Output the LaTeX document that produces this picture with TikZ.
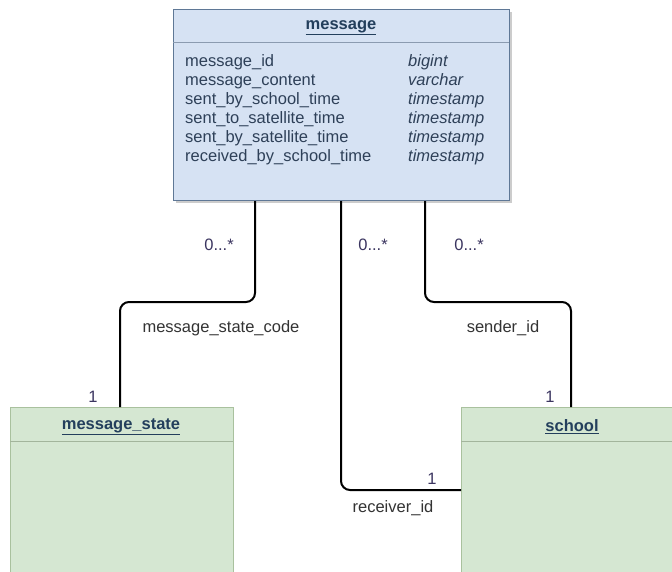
\documentclass[tikz,border=0pt]{standalone}
\usepackage{fontspec}
\setmainfont{Liberation Sans}
\definecolor{msgfill}{HTML}{D6E2F3}
\definecolor{msgdraw}{HTML}{5F7896}
\definecolor{msgsep}{HTML}{8B9BB0}
\definecolor{grfill}{HTML}{D5E7D2}
\definecolor{grdraw}{HTML}{A9C19E}
\definecolor{grsep}{HTML}{A3B59C}
\definecolor{ttl}{HTML}{233F5C}
\definecolor{bodytxt}{HTML}{2E4058}
\definecolor{multc}{HTML}{3B3560}
\definecolor{lblc}{HTML}{333333}
\begin{document}
\begin{tikzpicture}[x=1pt,y=-1pt,
  every node/.style={inner sep=0pt,font=\fontsize{16.5}{19}\selectfont},
  table/.style={draw=msgdraw,fill=msgfill,line width=1.2pt,minimum width=336pt,minimum height=191pt},
  grtable/.style={draw=grdraw,fill=grfill,line width=1.2pt,minimum width=223pt,minimum height=200pt},
  ttlnode/.style={text=ttl,font=\fontsize{16.5}{19}\selectfont\bfseries},
  field/.style={anchor=mid west,text=bodytxt},
  ftype/.style={anchor=mid west,text=bodytxt,font=\fontsize{16.5}{19}\selectfont\itshape},
  conn/.style={draw=black,line width=2pt,rounded corners=9pt},
  mult/.style={text=multc},
  lbl/.style={text=lblc}]
\useasboundingbox (0,0) rectangle (672,572);
\clip (0,0) rectangle (672,572);
\fill[white] (0,0) rectangle (672,572);
% message table
\fill[gray!40] (176,12) rectangle (512,203);
\node[table,anchor=north west] (msg) at (173,9) {};
\draw[msgsep,line width=1pt] (173,43) -- (509,43);
\node[ttlnode] (msgt) at (341,28) {\underline{message}};
\node[field] (f1) at (185,64) {message\_id};
\node[field] (f2) at (185,83) {message\_content};
\node[field] (f3) at (185,102) {sent\_by\_school\_time};
\node[field] (f4) at (185,121) {sent\_to\_satellite\_time};
\node[field] (f5) at (185,140) {sent\_by\_satellite\_time};
\node[field] (f6) at (185,159) {received\_by\_school\_time};
\node[ftype] (t1) at (408,64) {bigint};
\node[ftype] (t2) at (408,83) {varchar};
\node[ftype] (t3) at (408,102) {timestamp};
\node[ftype] (t4) at (408,121) {timestamp};
\node[ftype] (t5) at (408,140) {timestamp};
\node[ftype] (t6) at (408,159) {timestamp};
% message_state table
\node[grtable,anchor=north west] (ms) at (10,407) {};
\draw[grsep,line width=1pt] (10,441) -- (233,441);
\node[ttlnode] (mst) at (121,427) {\underline{message\_state}};
% school table
\node[grtable,anchor=north west] (sch) at (461,407) {};
\draw[grsep,line width=1pt] (461,441) -- (684,441);
\node[ttlnode] (scht) at (572,427) {\underline{school}};
% connector anchors
\coordinate (c1) at (255,200);
\coordinate (c2) at (341,200);
\coordinate (c3) at (425,200);
\coordinate (e1) at (120,407);
\coordinate (e2) at (461,490);
\coordinate (e3) at (571,407);
\draw[conn] (msg.south -| c1) -- (255,302) -- (120,302) -- (ms.north -| e1);
\draw[conn] (msg.south -| c2) -- (341,490) -- (sch.west |- e2);
\draw[conn] (msg.south -| c3) -- (425,302) -- (571,302) -- (sch.north -| e3);
% labels
\node[mult] (m1) at (219,245) {0...*};
\node[mult] (m2) at (373,245) {0...*};
\node[mult] (m3) at (469,245) {0...*};
\node[mult] (o1) at (93,397) {1};
\node[mult] (o2) at (432,479) {1};
\node[mult] (o3) at (550,397) {1};
\node[lbl] (l1) at (221,328) {message\_state\_code};
\node[lbl] (l2) at (393,508) {receiver\_id};
\node[lbl] (l3) at (503,328) {sender\_id};
\end{tikzpicture}
\end{document}
